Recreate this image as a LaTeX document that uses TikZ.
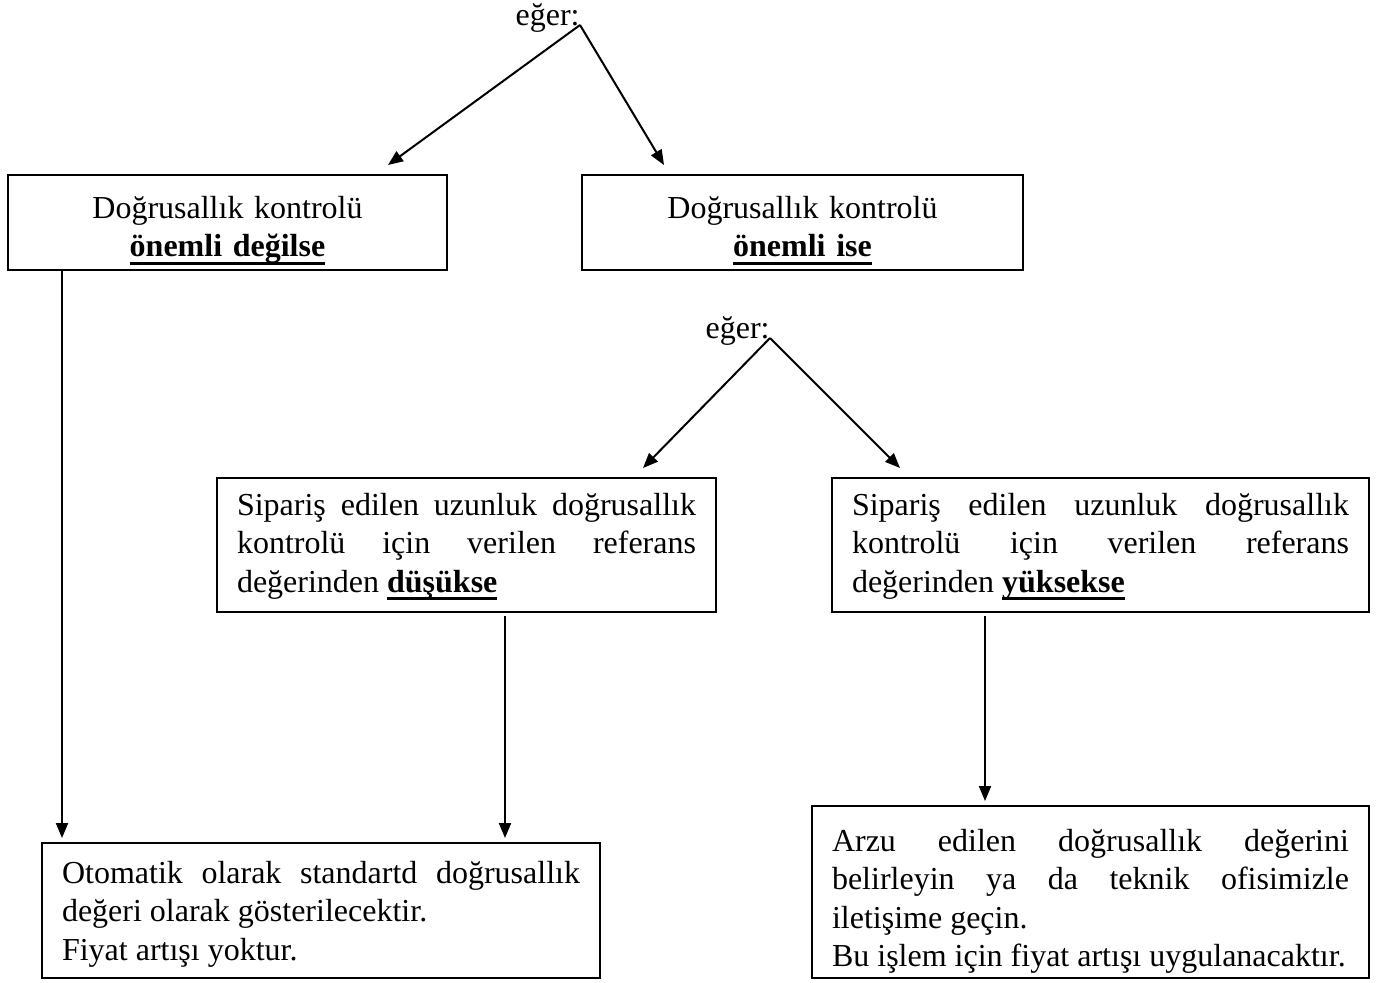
\documentclass[tikz,border=0pt]{standalone}
\usepackage{fontspec}
\setmainfont{Liberation Serif}
\usetikzlibrary{arrows.meta}
\newsavebox{\vurgukutu}
\newcommand{\vurgu}[1]{\leavevmode\sbox{\vurgukutu}{\textbf{#1}}\rlap{\smash{\rule[-4pt]{\wd\vurgukutu}{1.4pt}}}\usebox{\vurgukutu}}
\tikzset{
  kutu/.style={draw, line width=1pt, inner xsep=10pt, inner ysep=6pt, align=justify,
    font=\fontsize{16}{19.25}\selectfont},
  baslik/.style={kutu, align=center, font=\fontsize{16}{19.25}\selectfont,
    minimum height=47.5pt, text height=15.5pt, text depth=20pt},
  etiket/.style={inner sep=0pt, font=\fontsize{16}{19.25}\selectfont},
  ok/.style={line width=1pt, -{Triangle[length=7.5pt,width=6pt]}}
}

\begin{document}
\begin{tikzpicture}[x=0.5pt,y=-0.5pt]
    \useasboundingbox (0,0) rectangle (1379,982);
    \hyphenpenalty=10000 \tolerance=9999
    % first question
    \node[etiket, anchor=base east] (eger1) at (580,25) {eğer:};
    \node[baslik, text width=199.5pt] (degil) at (227.5,222.5)
	{Doğrusallık kontrolü\\ \vurgu{önemli değilse}};
    \node[baslik, text width=200.5pt] (ise) at (802.5,222.5)
	{Doğrusallık kontrolü\\ \vurgu{önemli ise}};
    \coordinate (u1) at (388,165);
    \coordinate (u2) at (664,165);
    \draw[ok] (eger1.base east) -- (u1);
    \draw[ok] (eger1.base east) -- (u2);
    % second question
    \node[etiket, anchor=base east] (eger2) at (770,338) {eğer:};
    \node[kutu, text width=229.5pt, minimum height=67pt, text height=12.5pt, text depth=42.5pt] (dusuk) at (466.5,545)
	{Sipariş edilen uzunluk doğrusallık\linebreak kontrolü için verilen referans\linebreak değerinden \vurgu{düşükse}};
    \node[kutu, text width=248.5pt, minimum height=67pt, text height=12.5pt, text depth=42.5pt] (yuksek) at (1100.5,545)
	{Sipariş edilen uzunluk doğrusallık\linebreak kontrolü için verilen referans\linebreak değerinden \vurgu{yüksekse}};
    \coordinate (u3) at (643,468);
    \coordinate (u4) at (900,468);
    \draw[ok] (eger2.base east) -- (u3);
    \draw[ok] (eger2.base east) -- (u4);
    % results
    \node[kutu, text width=259pt, minimum height=67.5pt, text height=14pt, text depth=41.5pt] (standart) at (321,910.5)
	{Otomatik olarak standartd doğrusallık\linebreak değeri olarak gösterilecektir.\\ Fiyat artışı yoktur.};
    \node[kutu, text width=258.5pt, minimum height=86pt, text height=16.5pt, text depth=57.5pt] (ofis) at (1090.5,892)
	{Arzu edilen doğrusallık değerini\linebreak belirleyin ya da teknik ofisimizle\linebreak iletişime geçin.\\ Bu işlem için fiyat artışı uygulanacaktır.};
    \coordinate (u5) at (62,838);
    \coordinate (u6) at (505,838);
    \coordinate (u7) at (985,801);
    \draw[ok] (degil.south -| u5) -- (u5);
    \draw[ok] ([yshift=-1.5pt]dusuk.south -| u6) -- (u6);
    \draw[ok] ([yshift=-1.5pt]yuksek.south -| u7) -- (u7);
\end{tikzpicture}
\end{document}
